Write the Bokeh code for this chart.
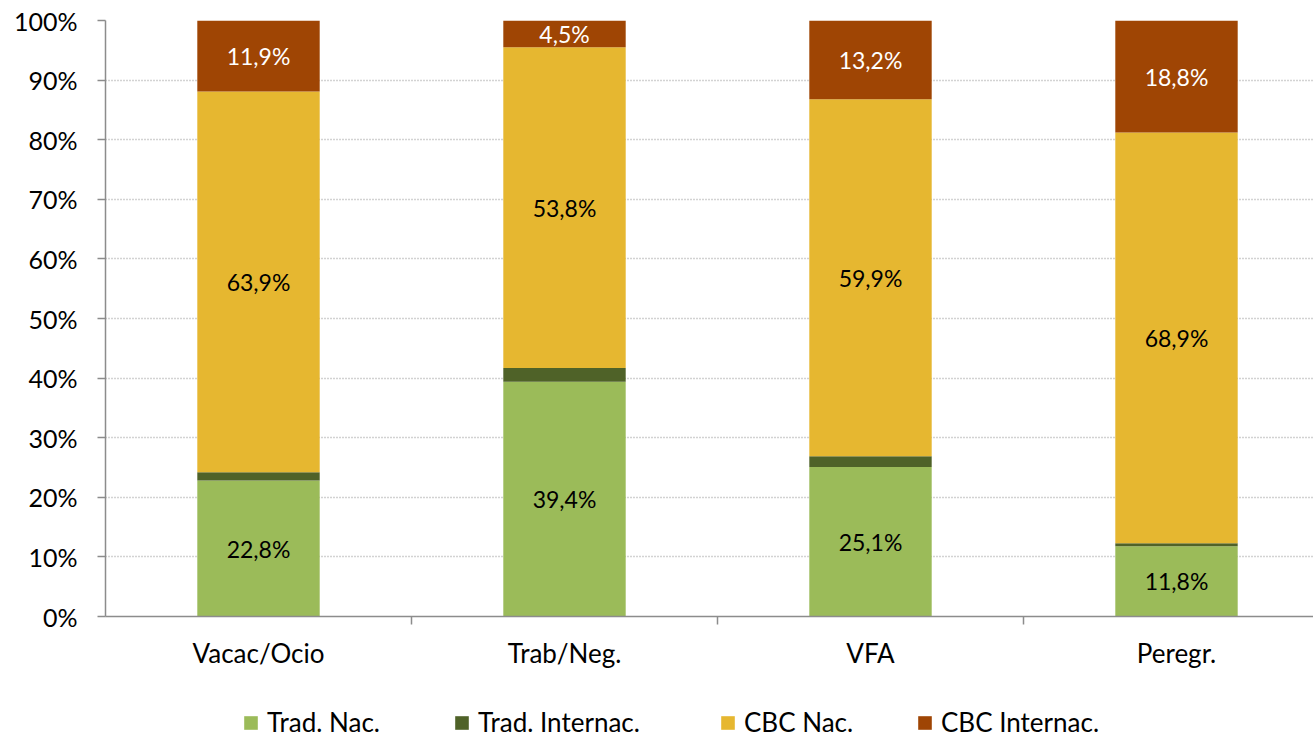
from bokeh.plotting import figure
from bokeh.models import (ColumnDataSource, Range1d, FixedTicker, PrintfTickFormatter,
                          Legend, LegendItem)
from bokeh.layouts import column
from bokeh.core.properties import value
from bokeh.embed import file_html
from bokeh.resources import INLINE

categories = ["Vacac/Ocio", "Trab/Neg.", "VFA", "Peregr."]
series = ["Trad. Nac.", "Trad. Internac.", "CBC Nac.", "CBC Internac."]
trad_nac = [22.8, 39.4, 25.1, 11.8]
trad_internac = [1.4, 2.3, 1.8, 0.5]
cbc_nac = [63.9, 53.8, 59.9, 68.9]
cbc_internac = [11.9, 4.5, 13.2, 18.8]
colors = ["#9BBB59", "#4F6228", "#E6B730", "#9F4504"]
label_colors = ["#000000", None, "#000000", "#FFFFFF"]
y_ticks = list(range(0, 101, 10))

FONT = "Lato"
W = 1313
LEFT = 105
CAT_PX = 306
keys = ["s0", "s1", "s2", "s3"]
xs = [i + 0.5 for i in range(len(categories))]
data = dict(x=xs)
for k, vals in zip(keys, [trad_nac, trad_internac, cbc_nac, cbc_internac]):
    data[k] = vals
src = ColumnDataSource(data)

p = figure(width=W, height=690, output_backend="svg", toolbar_location=None,
           x_range=Range1d(0, (W - LEFT) / CAT_PX), y_range=Range1d(0, 100),
           min_border_left=LEFT, min_border_right=0, min_border_top=20, min_border_bottom=74)
p.outline_line_color = None
p.background_fill_color = "white"
p.border_fill_color = "white"

rs = p.vbar_stack(keys, x="x", width=0.4, color=colors, line_color=None, source=src)

# data labels
cum = [0.0] * len(categories)
for vals, lc in zip([trad_nac, trad_internac, cbc_nac, cbc_internac], label_colors):
    centers = [c + v / 2 for c, v in zip(cum, vals)]
    cum = [c + v for c, v in zip(cum, vals)]
    if lc is None:
        continue
    texts = [("%.1f" % v).replace(".", ",") + "%" for v in vals]
    p.text(x=xs, y=centers, text=texts, text_align="center", text_baseline="middle",
           text_color=lc, text_font=value(FONT), text_font_size="23px")

# y axis
p.yaxis.ticker = FixedTicker(ticks=y_ticks, minor_ticks=[])
p.yaxis.formatter = PrintfTickFormatter(format="%d%%")
p.yaxis.major_label_text_font = FONT
p.yaxis.major_label_text_font_size = "25px"
p.yaxis.major_label_text_color = "#000000"
p.yaxis.axis_line_color = "#8C8C8C"
p.yaxis.axis_line_width = 1.5
p.yaxis.major_tick_line_color = "#8C8C8C"
p.yaxis.major_tick_line_width = 1.5
p.yaxis.major_tick_out = 8
p.yaxis.major_tick_in = 0
p.yaxis.major_label_standoff = 20

# x axis
p.xaxis.ticker = FixedTicker(ticks=xs, minor_ticks=list(range(1, len(categories))))
p.xaxis.major_label_overrides = {x: c for x, c in zip(xs, categories)}
p.xaxis.major_label_text_font = FONT
p.xaxis.major_label_text_font_size = "26px"
p.xaxis.major_label_text_color = "#000000"
p.xaxis.axis_line_color = "#8C8C8C"
p.xaxis.axis_line_width = 1.5
p.xaxis.major_tick_line_color = None
p.xaxis.major_tick_out = 0
p.xaxis.minor_tick_line_color = "#8C8C8C"
p.xaxis.minor_tick_line_width = 1.5
p.xaxis.minor_tick_out = 8
p.xaxis.minor_tick_in = 0
p.xaxis.major_label_standoff = 12

p.xgrid.grid_line_color = None
p.ygrid.ticker = FixedTicker(ticks=y_ticks[1:])
p.ygrid.grid_line_color = "#A6A6A6"
p.ygrid.grid_line_dash = "1 2"
p.ygrid.grid_line_width = 1.5

# legend strip (its frame is aligned with the main frame, starting at LEFT)
p2 = figure(width=W, height=737 - 690, output_backend="svg", toolbar_location=None,
            x_range=Range1d(0, 1), y_range=Range1d(0, 1),
            x_axis_type=None, y_axis_type=None,
            min_border_left=LEFT, min_border_right=0, min_border_top=0, min_border_bottom=0)
p2.outline_line_color = None
p2.xgrid.visible = False
p2.ygrid.visible = False
legend_x = [242, 453, 719, 916]
for s, k, c, lx in zip(series, keys, colors, legend_x):
    r = p2.vbar(x="x", top=k, width=0.4, color=c, line_color=None, source=src)
    r.visible = False
    lg = Legend(items=[LegendItem(label=s, renderers=[r])],
                orientation="horizontal", location=(lx - LEFT, -1),
                label_text_font=FONT, label_text_font_size="26px",
                label_text_color="#000000", label_height=17,
                glyph_width=17, glyph_height=17, label_standoff=8, spacing=0,
                inactive_fill_alpha=0,
                border_line_color=None, background_fill_alpha=0,
                margin=0, padding=0)
    p2.add_layout(lg, "center")

open("out.html", "w").write(file_html(column(p, p2, spacing=0), INLINE))
